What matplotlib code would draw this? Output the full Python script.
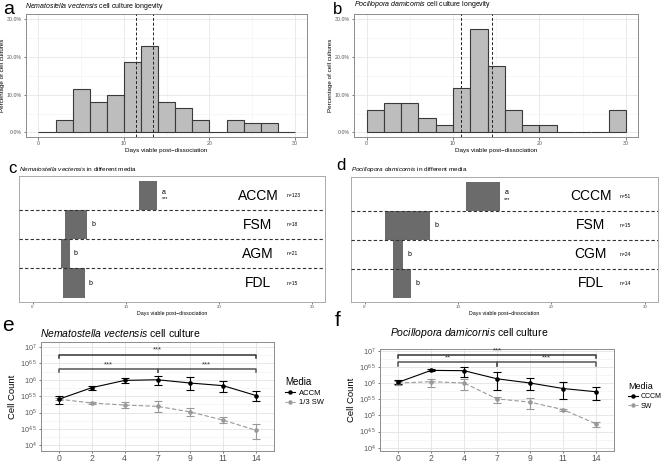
import numpy as np
import matplotlib
matplotlib.use('Agg')
import matplotlib.pyplot as plt
from matplotlib.lines import Line2D

plt.rcParams['font.family'] = ['Liberation Sans', 'DejaVu Sans']
plt.rcParams['mathtext.fontset'] = 'custom'
plt.rcParams['mathtext.rm'] = 'Liberation Sans'
plt.rcParams['mathtext.it'] = 'Liberation Sans:italic'
plt.rcParams['mathtext.bf'] = 'Liberation Sans:bold'

# ---- data ----
bin_edges = list(range(0, 30, 2))
hist_a_pct = [0, 3.3, 11.4, 8.1, 9.8, 18.7, 22.8, 8.1, 6.5, 3.3, 0, 3.3, 2.4, 2.4, 0]
hist_b_pct = [5.9, 7.8, 7.8, 3.9, 2.0, 11.8, 27.5, 17.6, 5.9, 2.0, 2.0, 0, 0, 0, 5.9]
ci_a = [11.4, 13.4]
ci_b = [10.9, 14.5]

media_c = ['ACCM', 'FSM', 'AGM', 'FDL']
lo_c = [11.4, 3.5, 3.1, 3.3]
hi_c = [13.4, 5.9, 4.0, 5.6]
n_c = [123, 18, 21, 15]
letters_c = ['a', 'b', 'b', 'b']

media_d = ['CCCM', 'FSM', 'CGM', 'FDL']
lo_d = [10.9, 2.2, 3.0, 3.0]
hi_d = [14.5, 7.0, 4.1, 5.0]
n_d = [51, 15, 24, 14]
letters_d = ['a', 'b', 'b', 'b']

days = ['0', '2', '4', '7', '9', '11', '14']
accm_log = [5.41, 5.76, 5.98, 6.00, 5.90, 5.82, 5.52]
accm_lo = [5.27, 5.70, 5.90, 5.84, 5.68, 5.63, 5.35]
accm_hi = [5.52, 5.82, 6.05, 6.12, 6.07, 5.97, 5.66]
sw3_log = [5.41, 5.29, 5.23, 5.19, 5.02, 4.77, 4.46]
sw3_lo = [5.38, 5.25, 5.13, 5.02, 4.89, 4.67, 4.21]
sw3_hi = [5.44, 5.33, 5.31, 5.34, 5.13, 4.87, 4.64]

cccm_log = [6.02, 6.39, 6.38, 6.13, 6.00, 5.83, 5.73]
cccm_lo = [5.98, 6.36, 6.20, 5.77, 5.77, 5.52, 5.47]
cccm_hi = [6.08, 6.43, 6.50, 6.33, 6.15, 6.02, 5.87]
sw_log = [6.00, 6.04, 6.00, 5.51, 5.41, 5.18, 4.74]
sw_lo = [5.95, 5.88, 5.78, 5.37, 5.21, 5.15, 4.64]
sw_hi = [6.05, 6.12, 6.13, 5.57, 5.54, 5.20, 4.81]

# bracket: (start index, end index, log height, label)
brackets_e = [(0, 6, 6.76, '***'), (0, 3, 6.33, '***'), (3, 6, 6.33, '***')]
brackets_f = [(0, 6, 6.86, '***'), (0, 3, 6.64, '**'), (3, 6, 6.64, '***')]

W, H = 667, 465
fig = plt.figure(figsize=(W / 100, H / 100), dpi=100)


def axes_px(x0, y0, x1, y1):
    return fig.add_axes([x0 / W, 1 - y1 / H, (x1 - x0) / W, (y1 - y0) / H])


def frame(ax, col='#8c8c8c'):
    for s in ax.spines.values():
        s.set_color(col)
        s.set_linewidth(0.7)
    ax.tick_params(colors='#444444', length=1.8, width=0.5, labelsize=3.8, pad=1.2)
    for t in ax.get_xticklabels() + ax.get_yticklabels():
        t.set_color('#555555')


def hist_panel(ax, pct, ci):
    ax.bar(bin_edges, pct, width=2, align='edge', color='#bdbdbd',
           edgecolor='#3a3a3a', linewidth=0.8, zorder=3)
    for v in ci:
        ax.axvline(v, color='#222222', ls=(0, (3, 2)), lw=0.7, zorder=4)
    ax.set_xlim(-1.45, 31.4)
    ax.set_ylim(-1.2, 31.4)
    ax.set_xticks([0, 10, 20, 30])
    ax.set_xticks([5, 15, 25], minor=True)
    ax.set_yticks([0, 10, 20, 30])
    ax.set_yticks([5, 15, 25], minor=True)
    ax.set_yticklabels(['0.0%', '10.0%', '20.0%', '30.0%'])
    ax.tick_params(which='minor', length=0)
    ax.grid(which='major', color='#e6e6e6', lw=0.6, zorder=0)
    ax.grid(which='minor', color='#f2f2f2', lw=0.4, zorder=0)
    ax.set_axisbelow(True)
    frame(ax)
    ax.set_xlabel('Days viable post\u2212dissociation', fontsize=4.5, labelpad=1.2)
    ax.set_ylabel('Percentage of cell cultures', fontsize=4.5, labelpad=1.5)


def media_panel(ax, names, lo, hi, ns, letters):
    ylo, yhi = 0.35, 4.67
    ypos = [4, 3, 2, 1]
    for y, name, a, b, n, let in zip(ypos, names, lo, hi, ns, letters):
        bot = max(y - 0.5, ylo)
        top = min(y + 0.5, yhi)
        ax.barh(bot, b - a, left=a, height=top - bot, align='edge',
                color='#6b6b6b', edgecolor='none', zorder=2)
        if let == 'a':
            ax.text(b + 0.45, y + 0.12, let, fontsize=5, ha='left', va='center')
            ax.text(b + 0.45, y - 0.12, '***', fontsize=4, ha='left', va='center')
        else:
            ax.text(b + 0.45, y, let, fontsize=5, ha='left', va='center')
        ax.text(24.2, y, name, fontsize=10, ha='center', va='center')
        ax.text(27.3, y, 'n=%d' % n, fontsize=3.6, ha='left', va='center')
    for y in [3.5, 2.5, 1.5]:
        ax.axhline(y, color='#333333', ls=(0, (3, 2)), lw=0.8, zorder=3)
    ax.set_xlim(-1.45, 31.4)
    ax.set_ylim(ylo, yhi)
    ax.set_xticks([0, 10, 20, 30])
    ax.set_yticks([])
    frame(ax, '#aaaaaa')
    ax.tick_params(labelsize=3.2, length=1.2)
    ax.set_xlabel('Days viable post\u2212dissociation', fontsize=3.8, labelpad=1.0)


def line_panel(ax, a_log, a_lo, a_hi, s_log, s_lo, s_hi, brackets, ylims):
    x = np.arange(len(days))
    for vals, lo, hi, col, ls in [(s_log, s_lo, s_hi, '#999999', (0, (4, 2))),
                                  (a_log, a_lo, a_hi, 'black', '-')]:
        y = 10 ** np.array(vals)
        yerr = [y - 10 ** np.array(lo), 10 ** np.array(hi) - y]
        ax.errorbar(x, y, yerr=yerr, color=col, ls=ls, lw=0.8, marker='o',
                    ms=2.3, capsize=3, elinewidth=0.8, capthick=0.8, zorder=3)
    for i0, i1, h, lab in brackets:
        yb = 10 ** h
        yt = 10 ** (h - 0.1)
        col = '#333333' if i1 - i0 == 6 else '#555555'
        ax.plot([x[i0], x[i0], x[i1], x[i1]], [yt, yb, yb, yt], color=col, lw=1.1, zorder=4)
        ax.text((x[i0] + x[i1]) / 2, 10 ** (h + 0.03), lab, fontsize=5.5,
                ha='center', va='bottom', color='#333333')
    ax.set_yscale('log')
    ax.set_ylim(10 ** ylims[0], 10 ** ylims[1])
    ax.set_xlim(-0.55, 6.55)
    majors = np.arange(4, 7.01, 0.5)
    ax.set_yticks(10 ** majors)
    ax.set_yticklabels(['$10^{%g}$' % m for m in majors])
    ax.set_yticks(10 ** np.arange(4.25, 7, 0.5), minor=True)
    ax.set_yticklabels([], minor=True)
    ax.set_xticks(x)
    ax.set_xticklabels(days)
    ax.tick_params(which='minor', length=0)
    ax.grid(which='major', color='#e3e3e3', lw=0.6, zorder=0)
    ax.grid(which='minor', axis='y', color='#f0f0f0', lw=0.4, zorder=0)
    ax.set_axisbelow(True)
    frame(ax)
    ax.tick_params(axis='y', labelsize=5.2, pad=1)
    ax.tick_params(axis='x', labelsize=6.2, length=1.2, pad=0.6)
    ax.set_ylabel('Cell Count', fontsize=6.8, labelpad=2)
    handles = [Line2D([], [], color='black', lw=0.8, marker='o', ms=2.2),
               Line2D([], [], color='#999999', lw=0.8, ls=(0, (2, 1.5)), marker='o', ms=2.2)]
    return handles


# a
ax_a = axes_px(26, 14, 307, 137)
hist_panel(ax_a, hist_a_pct, ci_a)
fig.text(25 / W, 1 - 6 / H, r'$\it{Nematostella\ vectensis}$ cell culture longevity',
         fontsize=5, ha='left', va='center')
fig.text(3 / W, 1 - 10 / H, 'a', fontsize=14, ha='left', va='center')

# b
ax_b = axes_px(354, 14, 638, 137)
hist_panel(ax_b, hist_b_pct, ci_b)
fig.text(354 / W, 1 - 5 / H, r'$\it{Pocillopora\ damicornis}$ cell culture longevity',
         fontsize=5, ha='left', va='center')
fig.text(333 / W, 1 - 9 / H, 'b', fontsize=12, ha='left', va='center')

# c
ax_c = axes_px(19, 176, 325, 302)
media_panel(ax_c, media_c, lo_c, hi_c, n_c, letters_c)
fig.text(19 / W, 1 - 169 / H, r'$\it{Nematostella\ vectensis}$ in different media',
         fontsize=4.6, ha='left', va='center')
fig.text(8 / W, 1 - 168 / H, 'c', fontsize=12, ha='left', va='center')

# d
ax_d = axes_px(351, 177, 658, 302)
media_panel(ax_d, media_d, lo_d, hi_d, n_d, letters_d)
fig.text(351 / W, 1 - 170 / H, r'$\it{Pocillopora\ damicornis}$ in different media',
         fontsize=4.6, ha='left', va='center')
fig.text(336 / W, 1 - 166 / H, 'd', fontsize=12, ha='left', va='center')

# e
ax_e = axes_px(41, 342, 274, 451)
h_e = line_panel(ax_e, accm_log, accm_lo, accm_hi, sw3_log, sw3_lo, sw3_hi,
                 brackets_e, (3.83, 7.15))
fig.text(40 / W, 1 - 333 / H, r'$\it{Nematostella\ vectensis}$ cell culture',
         fontsize=7.5, ha='left', va='center')
fig.text(2 / W, 1 - 325 / H, 'e', fontsize=15, ha='left', va='center')
fig.legend(h_e, ['ACCM', '1/3 SW'], title='Media', loc='upper left',
           bbox_to_anchor=(282 / W, 1 - 374 / H), frameon=False, fontsize=5.5,
           title_fontsize=7, handlelength=1.3, handletextpad=0.5, labelspacing=0.3,
           alignment='left', borderaxespad=0)

# f
ax_f = axes_px(380, 349, 614, 451)
h_f = line_panel(ax_f, cccm_log, cccm_lo, cccm_hi, sw_log, sw_lo, sw_hi,
                 brackets_f, (3.9, 7.05))
fig.text(390 / W, 1 - 333 / H, r'$\it{Pocillopora\ damicornis}$ cell culture',
         fontsize=7.5, ha='left', va='center')
fig.text(335 / W, 1 - 320 / H, 'f', fontsize=15, ha='left', va='center')
fig.legend(h_f, ['CCCM', 'SW'], title='Media', loc='upper left',
           bbox_to_anchor=(625 / W, 1 - 379 / H), frameon=False, fontsize=5,
           title_fontsize=6.5, handlelength=1.4, handletextpad=0.5, labelspacing=0.35,
           alignment='left', borderaxespad=0)

fig.savefig('out.png', dpi=100)
